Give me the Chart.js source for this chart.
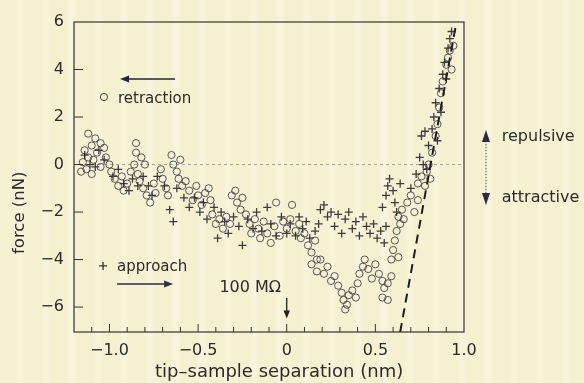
<!DOCTYPE html>
<html><head><meta charset="utf-8">
<script src="https://cdn.jsdelivr.net/npm/chart.js@4/dist/chart.umd.min.js"></script>
<style>
html,body{margin:0;padding:0;}
body{width:584px;height:383px;overflow:hidden;background-color:#f5f0cf;
background-image:repeating-linear-gradient(90deg, rgba(255,255,255,0) 0px, rgba(255,255,255,0) 14px, rgba(255,255,248,0.35) 20px, rgba(255,255,255,0) 26px);}
canvas{display:block;}
</style></head><body>
<canvas id="c" width="584" height="383"></canvas>
<script>
// ---- data ----
const retractionX = [-1.12,-1.08,-1.05,-1.10,-1.03,-1.14,-1.07,-1.12,-1.15,-1.09,-1.02,-1.00,-1.13,-1.16,-1.10,-1.05,
 -0.99,-0.97,-0.95,-0.93,-0.92,-0.90,-0.88,-0.85,-0.85,-0.86,-0.84,-0.82,-0.80,-0.83,-0.81,-0.79,-0.77,-0.75,-0.74,
 -0.71,-0.70,-0.68,-0.67,-0.65,-0.64,-0.62,-0.61,-0.60,-0.59,
 -0.57,-0.55,-0.53,-0.51,-0.50,-0.48,-0.46,-0.44,-0.43,
 -0.42,-0.40,-0.38,-0.36,-0.34,-0.32,-0.31,-0.29,-0.28,-0.26,-0.25,
 -0.23,-0.21,-0.20,-0.18,-0.16,-0.15,-0.13,-0.11,-0.09,-0.07,-0.06,-0.04,-0.02,0.00,
 0.02,0.03,0.05,0.07,0.08,0.10,0.12,0.14,0.16,0.17,
 0.14,0.17,0.19,0.21,0.23,0.25,0.27,
 0.29,0.31,0.32,0.34,0.35,0.37,0.39,0.40,0.33,
 0.41,0.43,0.44,0.46,0.48,0.50,
 0.52,0.54,0.55,0.57,0.54,0.57,0.59,
 0.59,0.60,0.61,0.62,0.63,0.64,
 0.63,0.65,0.66,0.68,0.70,0.72,0.74,
 0.74,0.76,0.78,0.79,0.81,0.80,
 0.82,0.84,0.85,0.86,0.87,0.88,0.90,0.91,0.92,0.94,0.93];
const retractionY = [1.3,1.1,0.9,0.8,0.7,0.6,0.5,0.3,0.1,0.2,0.3,0.0,-0.2,-0.3,-0.4,-0.1,
 -0.3,-0.6,-0.9,-0.5,-1.1,-0.8,-0.3,0.9,0.5,0.0,-0.4,0.3,0.0,-0.7,-1.0,-1.3,-1.6,-0.8,-1.2,
 -0.2,-0.6,-1.0,-1.3,0.4,0.0,-0.3,-0.6,0.2,-0.9,
 -0.7,-1.1,-1.5,-0.9,-1.3,-1.7,-1.2,-1.0,-1.5,
 -2.1,-2.5,-2.3,-2.7,-2.2,-2.5,-1.3,-1.1,-1.6,-1.9,-1.4,
 -2.1,-2.5,-2.9,-2.3,-2.7,-3.1,-2.4,-2.9,-3.3,-2.6,-1.6,-3.0,-2.4,-2.7,
 -2.3,-1.7,-2.8,-2.5,-3.1,-2.9,-3.4,-3.7,-3.2,-4.0,
 -4.2,-4.5,-4.0,-4.6,-4.3,-4.9,-4.7,
 -5.1,-5.4,-5.7,-5.9,-5.5,-5.3,-5.6,-5.0,-6.1,
 -4.6,-4.3,-4.0,-4.4,-4.8,-4.2,
 -4.6,-4.9,-5.2,-5.0,-5.6,-5.7,-4.7,
 -4.0,-3.6,-3.2,-2.8,-3.9,-2.5,
 -2.2,-1.9,-2.3,-1.6,-1.3,-2.0,-1.5,
 -0.8,-0.5,-0.9,-0.3,-0.6,0.0,
 0.5,1.2,1.7,2.4,3.0,3.5,4.2,4.5,4.8,5.0,4.0];
const approachX = [-1.14,-1.11,-1.08,-1.06,-1.03,-0.98,-0.95,-0.92,-0.89,-0.87,-0.84,-0.81,-0.78,-0.76,-0.73,-0.69,-0.66,-0.64,-0.62,-0.58,
 -0.55,-0.52,-0.49,-0.47,-0.45,-0.41,-0.39,-0.37,-0.35,-0.33,-0.30,-0.27,-0.25,-0.22,-0.19,-0.17,-0.14,-0.11,-0.09,-0.06,
 -0.03,0.00,0.02,0.05,0.07,0.09,0.11,0.13,0.16,0.18,
 0.19,0.21,0.23,0.25,0.27,0.29,0.31,0.33,0.35,0.37,0.39,0.41,0.43,0.45,0.47,0.49,0.51,0.53,0.55,0.56,
 0.54,0.56,0.57,0.58,0.60,0.61,0.62,0.64,
 0.70,0.73,0.75,0.77,0.79,0.76,0.80,0.82,0.83,0.84,0.86,0.88,0.89,0.91,0.92,0.93,0.90,0.87,0.85,0.78];
const approachY = [0.4,0.0,-0.1,0.6,0.2,-0.5,-0.2,-0.8,-1.1,-0.6,-0.9,-0.5,-0.9,-1.3,-0.5,-0.9,-1.9,-2.4,-1.0,-1.4,
 -1.8,-1.4,-2.0,-1.6,-2.3,-1.8,-3.1,-2.0,-2.4,-2.9,-2.2,-2.6,-3.4,-2.3,-2.7,-2.0,-2.8,-1.8,-2.5,-3.0,
 -2.2,-2.9,-2.5,-3.0,-2.2,-2.7,-2.4,-3.1,-2.8,-2.5,
 -1.9,-1.7,-2.2,-2.0,-2.6,-2.1,-2.9,-2.3,-2.0,-2.7,-2.4,-3.0,-2.2,-2.6,-2.9,-2.5,-3.1,-2.8,-3.3,-2.6,
 -1.8,-1.3,-0.9,-0.6,-1.1,-1.6,-2.0,-0.8,
 -1.0,-0.4,0.3,0.0,-0.2,1.2,0.8,1.5,2.0,2.6,3.2,3.8,4.3,4.9,5.3,5.6,3.6,2.2,1.0,1.4];
const contactLineX = [0.64, 0.955];
const contactLineY = [-7.05, 5.9];
const zeroLineX = [-1.2, 1.0];
const zeroLineY = [0, 0];
const xTickValues = [-1.0, -0.5, 0, 0.5, 1.0];
const xTickLabels = ['\u22121.0', '\u22120.5', '0', '0.5', '1.0'];
const yTickValues = [-6, -4, -2, 0, 2, 4, 6];
const yTickLabels = ['\u22126', '\u22124', '\u22122', '0', '2', '4', '6'];

const pts = (xs, ys) => xs.map((x, i) => ({x: x, y: ys[i]}));
const FONT = 'DejaVu Sans';
const INK = '#2b2b2e';

function arrow(ctx, x1, y1, x2, y2, head, color, lw) {
  const a = Math.atan2(y2 - y1, x2 - x1);
  ctx.save();
  ctx.strokeStyle = color; ctx.fillStyle = color; ctx.lineWidth = lw;
  ctx.beginPath(); ctx.moveTo(x1, y1);
  ctx.lineTo(x2 - Math.cos(a) * head * 0.8, y2 - Math.sin(a) * head * 0.8); ctx.stroke();
  ctx.beginPath(); ctx.moveTo(x2, y2);
  ctx.lineTo(x2 - head * Math.cos(a) + head * 0.4 * Math.sin(a), y2 - head * Math.sin(a) - head * 0.4 * Math.cos(a));
  ctx.lineTo(x2 - head * Math.cos(a) - head * 0.4 * Math.sin(a), y2 - head * Math.sin(a) + head * 0.4 * Math.cos(a));
  ctx.closePath(); ctx.fill();
  ctx.restore();
}

const decor = {
  id: 'decor',
  afterDraw(chart) {
    const ctx = chart.ctx, xs = chart.scales.x, ys = chart.scales.y, ca = chart.chartArea;
    const X = v => xs.getPixelForValue(v), Y = v => ys.getPixelForValue(v);
    ctx.save();
    // frame
    ctx.strokeStyle = '#333'; ctx.lineWidth = 1.2;
    ctx.strokeRect(ca.left, ca.top, ca.right - ca.left, ca.bottom - ca.top);
    // inward ticks on x
    ctx.lineWidth = 1;
    for (let k = -11; k <= 9; k++) {
      const v = k / 10; const major = (k % 5 === 0);
      ctx.beginPath(); ctx.moveTo(X(v), ca.bottom); ctx.lineTo(X(v), ca.bottom - (major ? 8 : 5)); ctx.stroke();
    }
    // inward ticks on y
    yTickValues.forEach(v => {
      if (v === 6) return;
      ctx.beginPath(); ctx.moveTo(ca.left, Y(v)); ctx.lineTo(ca.left + 9, Y(v)); ctx.stroke();
    });
    // axis titles
    ctx.fillStyle = INK;
    ctx.font = '18px "' + FONT + '"'; ctx.textAlign = 'center'; ctx.textBaseline = 'middle';
    ctx.fillText('tip\u2013sample separation (nm)', X(-0.043), 372);
    ctx.save(); ctx.translate(20, Y(-2.03)); ctx.rotate(-Math.PI / 2);
    ctx.font = '16.5px "' + FONT + '"'; ctx.fillText('force (nN)', 0, 0); ctx.restore();
    // retraction legend
    ctx.textAlign = 'left';
    ctx.font = '15px "' + FONT + '"';
    ctx.strokeStyle = '#444'; ctx.lineWidth = 1;
    ctx.beginPath(); ctx.arc(X(-1.031), Y(2.84), 3.6, 0, Math.PI * 2); ctx.stroke();
    ctx.fillText('retraction', X(-0.952), Y(2.74));
    arrow(ctx, X(-0.63), Y(3.6), X(-0.94), Y(3.6), 9, '#23253a', 1.3);
    // approach legend
    ctx.strokeStyle = '#333'; ctx.lineWidth = 1.3;
    const px = X(-1.036), py = Y(-4.27);
    ctx.beginPath(); ctx.moveTo(px - 4, py); ctx.lineTo(px + 4, py); ctx.moveTo(px, py - 4); ctx.lineTo(px, py + 4); ctx.stroke();
    ctx.fillText('approach', X(-0.957), Y(-4.3));
    arrow(ctx, X(-0.957), Y(-5.03), X(-0.641), Y(-5.03), 9, '#2d2f48', 1.3);
    // 100 MOhm marker
    ctx.textAlign = 'center';
    ctx.font = '16px "' + FONT + '"';
    ctx.fillText('100 M\u03A9', X(-0.206), Y(-5.2));
    arrow(ctx, X(0), Y(-5.62), X(0), Y(-6.48), 8, '#222', 1.3);
    // repulsive / attractive
    ctx.textAlign = 'left';
    ctx.fillText('repulsive', X(1.213), Y(1.15));
    ctx.fillText('attractive', X(1.213), Y(-1.4));
    ctx.strokeStyle = '#555'; ctx.lineWidth = 1; ctx.setLineDash([1.5, 1.5]);
    ctx.beginPath(); ctx.moveTo(X(1.124), Y(1.0)); ctx.lineTo(X(1.124), Y(-1.4)); ctx.stroke();
    ctx.setLineDash([]);
    ctx.fillStyle = '#2a2c40';
    const ax = X(1.124);
    ctx.beginPath(); ctx.moveTo(ax, Y(1.45)); ctx.lineTo(ax - 4, Y(0.95)); ctx.lineTo(ax + 4, Y(0.95)); ctx.closePath(); ctx.fill();
    ctx.beginPath(); ctx.moveTo(ax, Y(-1.7)); ctx.lineTo(ax - 4, Y(-1.2)); ctx.lineTo(ax + 4, Y(-1.2)); ctx.closePath(); ctx.fill();
    ctx.restore();
  }
};

new Chart(document.getElementById('c'), {
  type: 'scatter',
  data: {
    datasets: [
      { type: 'line', label: 'contact', data: pts(contactLineX, contactLineY), borderColor: '#1e1e22', borderWidth: 2,
        borderDash: [9, 6], pointRadius: 0, fill: false, showLine: true },
      { label: 'approach', data: pts(approachX, approachY), pointStyle: 'cross', pointRadius: 4,
        borderColor: 'rgba(40,40,48,0.9)', borderWidth: 1.3, backgroundColor: 'transparent' },
      { label: 'retraction', data: pts(retractionX, retractionY), pointStyle: 'circle', pointRadius: 3.6,
        borderColor: 'rgba(60,60,72,0.85)', borderWidth: 1, backgroundColor: 'transparent' },
      { type: 'line', label: 'zero', data: pts(zeroLineX, zeroLineY), borderColor: '#a0a0a0', borderWidth: 1,
        borderDash: [3, 3], pointRadius: 0, fill: false }
    ]
  },
  options: {
    responsive: false, animation: false, devicePixelRatio: 1,
    layout: { padding: { left: 0, right: 120, top: 22, bottom: 0 } },
    plugins: { legend: { display: false }, tooltip: { enabled: false } },
    scales: {
      x: {
        type: 'linear', min: -1.2, max: 1.0,
        afterBuildTicks: s => { s.ticks = xTickValues.map(v => ({ value: v })); },
        afterFit: s => { s.height = 51; },
        ticks: { callback: (v, i) => xTickLabels[i], font: { family: FONT, size: 16 }, color: INK, padding: 9, maxRotation: 0, autoSkip: false },
        grid: { display: true, drawOnChartArea: false, drawTicks: false },
        border: { display: false }
      },
      y: {
        type: 'linear', min: -7.05, max: 6,
        afterBuildTicks: s => { s.ticks = yTickValues.map(v => ({ value: v })); },
        afterFit: s => { s.width = 74; },
        ticks: { callback: (v, i) => yTickLabels[i], font: { family: FONT, size: 16 }, color: INK, padding: 10, autoSkip: false },
        grid: { display: true, drawOnChartArea: false, drawTicks: false },
        border: { display: false }
      }
    }
  },
  plugins: [decor]
});
</script>
</body></html>
